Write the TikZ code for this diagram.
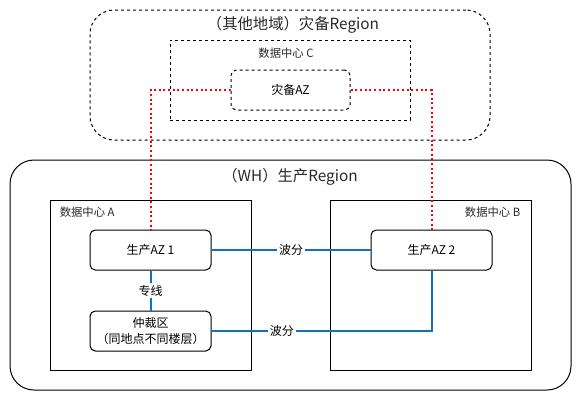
\documentclass[tikz,border=0pt]{standalone}
\usepackage{fontspec}
\setmainfont{Noto Sans CJK SC}
\usetikzlibrary{positioning}
\definecolor{linkblue}{RGB}{16,114,186}
\definecolor{textgray}{RGB}{40,40,40}
\tikzset{az node/.style={draw,line width=0.75pt,rounded corners=4pt,minimum width=90.75pt,minimum height=30pt,inner sep=0pt,
		align=center,fill=white,font=\fontsize{9}{12}\selectfont},
	dc node/.style={draw,line width=0.75pt,inner sep=0pt,minimum width=150.75pt,minimum height=127.5pt},
	region node/.style={draw,line width=0.75pt,inner sep=0pt,rounded corners=18pt},
	short dashes/.style={dash pattern=on 2.25pt off 2.25pt},
	small label/.style={inner sep=0pt,text=textgray,font=\fontsize{8.5}{10}\selectfont},
	title label/.style={inner sep=0pt,text=textgray,font=\fontsize{11.5}{13}\selectfont},
}

\begin{document}
\begin{tikzpicture}[x=0.75pt,y=-0.75pt,
		wdm link/.style={draw=linkblue,line width=1.5pt},
		dr link/.style={draw=red,line width=1.5pt,dotted},
		link label/.style={fill=white,inner sep=1.5pt,font=\fontsize{9}{11}\selectfont}]
	\useasboundingbox (0,0) rectangle (581,401);
	
	% regions
	\node[region node,short dashes,minimum width=300pt,minimum height=97.5pt] (drRegion) at (290,75) {};
	\node[region node,minimum width=420.75pt,minimum height=172.5pt] (prodRegion) at (290.5,275) {};
	\node[title label] (drTitle) at (293,25) {（其他地域）灾备Region};
	\node[title label] (prodTitle) at (290,177) {（WH）生产Region};
	
	% data centers
	\node[dc node,short dashes,minimum width=180pt,minimum height=60pt] (dcC) at (290,80) {};
	\node[dc node] (dcA) at (150.5,285) {};
	\node[dc node] (dcB) at (430.5,285) {};
	\node[small label] (dcClabel) at (286,53) {数据中心 C};
	\node[small label,anchor=west] (dcAlabel) at ([xshift=7.5pt,yshift=-9.75pt]dcA.north west) {数据中心 A};
	\node[small label,anchor=east] (dcBlabel) at ([xshift=-8.25pt,yshift=-9.75pt]dcB.north east) {数据中心 B};
	
	% availability zones
	\node[az node,short dashes,minimum width=89.25pt] (drAZ) at (290.5,90) {灾备AZ};
	\node[az node] (az1) at (150.5,250) {生产AZ 1};
	\node[az node] (az2) [right=119.25pt of az1] {生产AZ 2};
	\node[az node] (arb) [below=30pt of az1] {仲裁区\\（同地点不同楼层）};
	
	% links
	\path[dr link] (drAZ.west) -| (az1.north);
	\path[dr link] (drAZ.east) -| (az2.north);
	\path[wdm link] (az1) -- node[link label] {专线} (arb);
	\path[wdm link] (az1) -- node[link label] {波分} (az2);
	\path[wdm link] (arb.east) -| node[link label,pos=0.16] {波分} (az2.south);
\end{tikzpicture}
\end{document}
